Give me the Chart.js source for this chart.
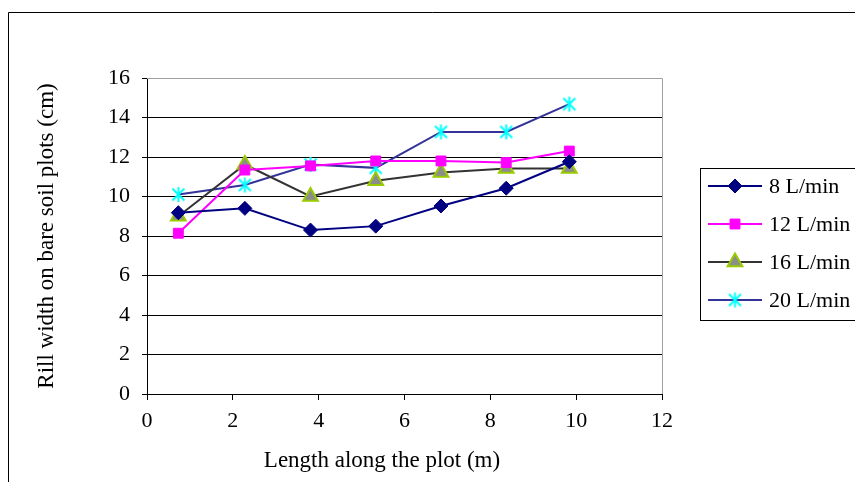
<!DOCTYPE html>
<html>
<head>
<meta charset="utf-8">
<script src="https://cdn.jsdelivr.net/npm/chart.js@4"></script>
<style>
  html, body { margin: 0; padding: 0; background: #fff; }
  #wrap { width: 855px; height: 482px; position: relative; }
</style>
</head>
<body>
<div id="wrap"><canvas id="chart" width="855" height="482"></canvas></div>
<script>
// positions along the plot (m)
const lengths = [0.73, 2.28, 3.81, 5.33, 6.85, 8.37, 9.84];

const flow8 = [9.18, 9.4, 8.3, 8.5, 9.52, 10.42, 11.76];
const flow12 = [8.14, 11.34, 11.55, 11.8, 11.8, 11.72, 12.3];
const flow16 = [9.0, 11.62, 10.0, 10.8, 11.22, 11.42, 11.42];
const flow20 = [10.1, 10.58, 11.62, 11.45, 13.27, 13.27, 14.68];

const seriesLabels = ["8 L/min", "12 L/min", "16 L/min", "20 L/min"];
const xTicks = [0, 2, 4, 6, 8, 10, 12];
const yTicks = [0, 2, 4, 6, 8, 10, 12, 14, 16];
const xTitle = "Length along the plot (m)";
const yTitle = "Rill width on bare soil plots (cm)";

const FONT = "'Liberation Serif', 'Times New Roman', serif";

function pts(ys) {
  return lengths.map((x, i) => ({ x: x, y: ys[i] }));
}

// excel-like asterisk marker: vertical stroke + X
function asterisk(size, color) {
  const c = document.createElement("canvas");
  c.width = size;
  c.height = size;
  const g = c.getContext("2d");
  const m = size / 2, r = size / 2 - 1;
  const d = r * 0.8;
  g.strokeStyle = color;
  g.lineWidth = 2;
  g.beginPath();
  g.moveTo(m, m - r); g.lineTo(m, m + r);
  g.moveTo(m - d, m - d); g.lineTo(m + d, m + d);
  g.moveTo(m + d, m - d); g.lineTo(m - d, m + d);
  g.stroke();
  return c;
}
const starMark = asterisk(17, "#00ffff");

const datasets = [
  {
    label: seriesLabels[0],
    data: pts(flow8),
    borderColor: "#000080",
    backgroundColor: "#000080",
    pointStyle: "rectRot",
    pointRadius: 7,
    pointBorderWidth: 1,
    pointBorderColor: "#000080",
  },
  {
    label: seriesLabels[1],
    data: pts(flow12),
    borderColor: "#ff00ff",
    backgroundColor: "#ff00ff",
    pointStyle: "rect",
    pointRadius: 7,
    pointBorderWidth: 1,
    pointBorderColor: "#ff00ff",
  },
  {
    label: seriesLabels[2],
    data: pts(flow16),
    borderColor: "#333333",
    backgroundColor: "#8c8c8c",
    pointStyle: "triangle",
    pointRadius: 8.5,
    pointBorderWidth: 2,
    pointBorderColor: "#99cc00",
  },
  {
    label: seriesLabels[3],
    data: pts(flow20),
    borderColor: "#333399",
    backgroundColor: "#00ffff",
    pointStyle: starMark,
    pointRadius: 8,
    pointBorderWidth: 2,
    pointBorderColor: "#00ffff",
  },
];
datasets.forEach((d) => {
  d.showLine = true;
  d.borderWidth = 2;
  d.fill = false;
  d.tension = 0;
});

// outer frame, gray top/right plot edges, x title
const framePlugin = {
  id: "frame",
  beforeDraw(chart) {
    const ctx = chart.ctx;
    ctx.save();
    ctx.fillStyle = "#fff";
    ctx.fillRect(0, 0, chart.width, chart.height);
    ctx.strokeStyle = "#000";
    ctx.lineWidth = 1;
    ctx.beginPath();
    ctx.moveTo(8.5, chart.height + 2);
    ctx.lineTo(8.5, 12.5);
    ctx.lineTo(chart.width + 2, 12.5);
    ctx.stroke();
    ctx.restore();
  },
  afterDraw(chart) {
    const { ctx, chartArea } = chart;
    ctx.save();
    ctx.strokeStyle = "#a0a0a0";
    ctx.lineWidth = 1;
    ctx.beginPath();
    ctx.moveTo(chartArea.left, chartArea.top + 0.5);
    ctx.lineTo(Math.round(chartArea.right) + 0.5, chartArea.top + 0.5);
    ctx.lineTo(Math.round(chartArea.right) + 0.5, chartArea.bottom);
    ctx.stroke();
    ctx.fillStyle = "#000";
    ctx.font = "23px " + FONT;
    ctx.textAlign = "center";
    ctx.textBaseline = "middle";
    ctx.fillText(xTitle, 382, 461);
    ctx.restore();
  },
};

// legend box on the right, drawn from the dataset styles
const legendPlugin = {
  id: "boxLegend",
  afterDraw(chart) {
    const ctx = chart.ctx;
    const left = 700.5, top = 168.5, w = 160, h = 152;
    ctx.save();
    ctx.fillStyle = "#fff";
    ctx.fillRect(left, top, w, h);
    ctx.strokeStyle = "#000";
    ctx.lineWidth = 1;
    ctx.strokeRect(left, top, w, h);
    ctx.font = "22px " + FONT;
    ctx.textBaseline = "middle";
    chart.data.datasets.forEach((ds, i) => {
      const y = 186 + i * 38;
      ctx.strokeStyle = ds.borderColor;
      ctx.lineWidth = 2;
      ctx.beginPath();
      ctx.moveTo(708, y);
      ctx.lineTo(762, y);
      ctx.stroke();
      ctx.fillStyle = ds.backgroundColor;
      ctx.strokeStyle = ds.pointBorderColor;
      ctx.lineWidth = ds.pointBorderWidth;
      Chart.helpers.drawPoint(ctx, {
        pointStyle: ds.pointStyle,
        radius: ds.pointRadius,
        rotation: 0,
        borderWidth: ds.pointBorderWidth,
      }, 735, y);
      ctx.fillStyle = "#000";
      ctx.fillText(ds.label, 769, y + 1);
    });
    ctx.restore();
  },
};

new Chart(document.getElementById("chart"), {
  type: "scatter",
  data: { datasets: datasets },
  options: {
    responsive: false,
    animation: false,
    layout: { padding: { left: 30, top: 78, right: 193, bottom: 0 } },
    plugins: {
      legend: { display: false },
      tooltip: { enabled: false },
    },
    scales: {
      x: {
        type: "linear",
        min: 0,
        max: 12,
        afterBuildTicks: (s) => { s.ticks = xTicks.map((v) => ({ value: v })); },
        afterFit: (s) => { s.height = 88; },
        border: { color: "#000", width: 1 },
        grid: {
          drawOnChartArea: false,
          drawTicks: true,
          tickLength: 6,
          color: "#000",
        },
        ticks: {
          color: "#000",
          padding: 8,
          font: { family: FONT, size: 22 },
        },
        title: { display: false, text: xTitle },
      },
      y: {
        type: "linear",
        min: 0,
        max: 16,
        afterBuildTicks: (s) => { s.ticks = yTicks.map((v) => ({ value: v })); },
        afterFit: (s) => { s.width = 117; },
        border: { color: "#000", width: 1 },
        grid: {
          drawTicks: true,
          tickLength: 5,
          color: (c) => (c.tick && c.tick.value === 16 ? "#a0a0a0" : "#000"),
          tickColor: "#000",
        },
        ticks: {
          color: "#000",
          padding: 12,
          font: { family: FONT, size: 22 },
        },
        title: {
          display: true,
          text: yTitle,
          color: "#000",
          font: { family: FONT, size: 23 },
          padding: { top: 3, bottom: 0 },
        },
      },
    },
  },
  plugins: [framePlugin, legendPlugin],
});
</script>
</body>
</html>
